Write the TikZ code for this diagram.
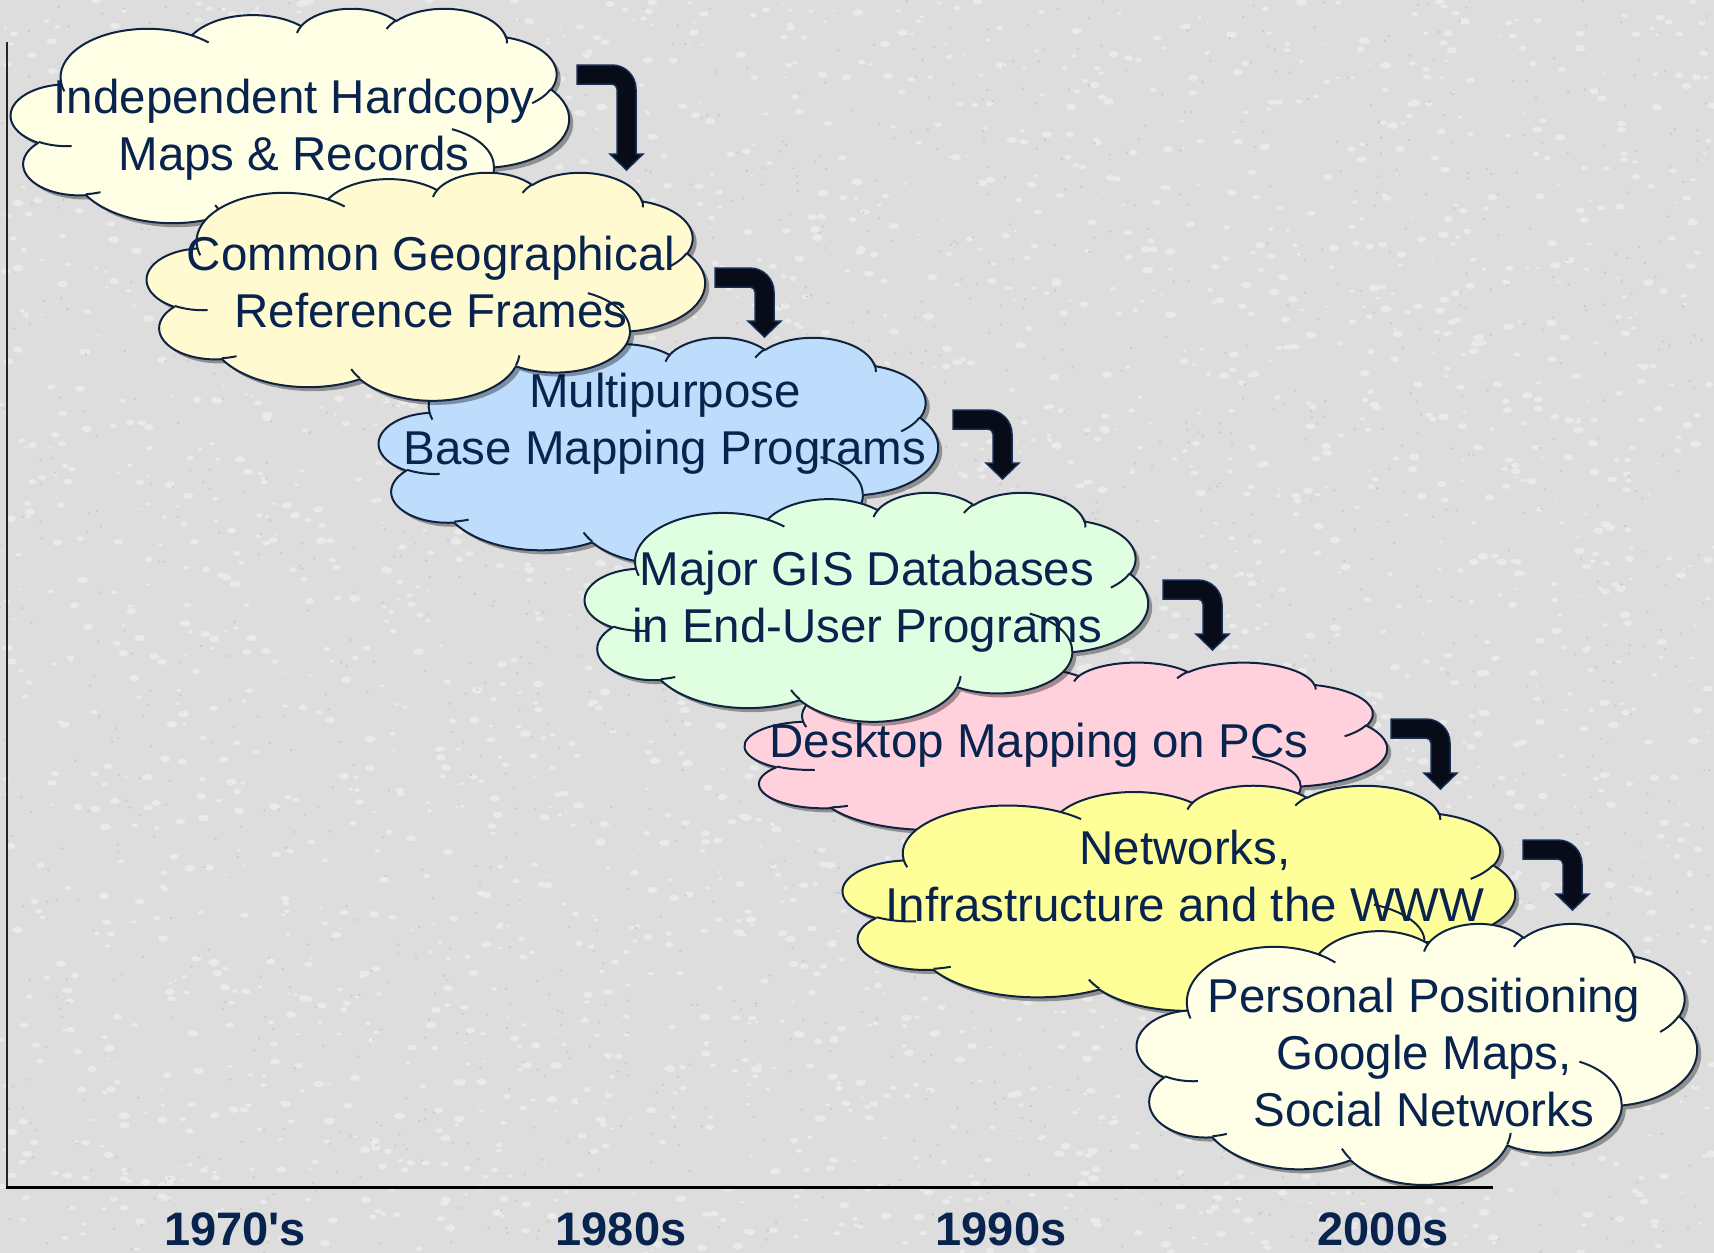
\documentclass[tikz,border=0pt]{standalone}
\usepackage{fontspec}
\setmainfont{Liberation Sans}
\definecolor{bgc}{RGB}{221,221,221}
\definecolor{specl}{RGB}{234,234,234}
\definecolor{specd}{RGB}{200,200,200}
\definecolor{cline}{RGB}{15,35,64}
\definecolor{txtc}{RGB}{8,36,78}
\definecolor{arrf}{RGB}{8,12,24}
\definecolor{arrl}{RGB}{20,45,85}
\definecolor{fa}{RGB}{255,255,230}
\definecolor{fb}{RGB}{255,250,208}
\definecolor{fc}{RGB}{190,221,253}
\definecolor{fd}{RGB}{224,255,224}
\definecolor{fe}{RGB}{255,209,220}
\definecolor{ff}{RGB}{255,255,153}
\definecolor{fg}{RGB}{255,255,232}
% visual (OOXML) angles -> parametric angles
\newcommand\mkarc[5]{%
  \pgfmathsetmacro\tmpS{atan2((#2)*sin(#4),(#3)*cos(#4))}%
  \pgfmathsetmacro\tmpE{atan2((#2)*sin((#4)+(#5)),(#3)*cos((#4)+(#5)))}%
  \pgfmathsetmacro\tmpD{(\tmpE)-(\tmpS)-360*round(((\tmpE)-(\tmpS)-(#5))/360)}%
  \expandafter\xdef\csname cloudS#1\endcsname{\tmpS}%
  \expandafter\xdef\csname cloudD#1\endcsname{\tmpD}%
}
\mkarc{A}{67.53}{91.90}{-190.4875}{123.7805}
\mkarc{B}{53.33}{72.67}{-144.1024}{89.9452}
\mkarc{C}{43.65}{59.45}{-145.8079}{99.7230}
\mkarc{D}{48.57}{65.95}{-130.9861}{117.2417}
\mkarc{E}{53.33}{72.73}{-78.7089}{109.0269}
\mkarc{F}{67.75}{92.20}{-46.2673}{130.2690}
\mkarc{G}{57.85}{78.67}{0.6250}{114.0333}
\mkarc{H}{67.52}{92.15}{22.4516}{115.1726}
\mkarc{I}{77.20}{105.43}{66.2426}{75.7110}
\mkarc{J}{43.60}{59.18}{-274.9421}{146.7356}
\mkarc{K}{43.45}{59.45}{-246.8285}{152.5189}
\mkarc{a}{43.45}{59.45}{86.7420}{26.4295}
\mkarc{b}{43.60}{59.18}{73.6105}{11.4475}
\mkarc{c}{67.52}{92.15}{137.6242}{14.0811}
\mkarc{d}{67.52}{92.15}{6.4533}{15.9984}
\mkarc{e}{57.85}{78.67}{-70.2924}{70.9174}
\mkarc{f}{53.33}{72.73}{30.3180}{27.7515}
\mkarc{g}{48.57}{65.95}{-13.7443}{14.8589}
\mkarc{h}{48.57}{65.95}{-149.1815}{18.1954}
\mkarc{i}{43.65}{59.45}{-163.4943}{17.6864}
\mkarc{j}{67.53}{91.90}{-66.7070}{12.3194}
\mkarc{k}{67.53}{91.90}{157.6544}{11.8582}
\newcommand\cloudmain[1]{\path[#1] (39.00,143.70)
 arc[x radius=67.53,y radius=91.90,start angle=\cloudSA,delta angle=\cloudDA]
 arc[x radius=53.33,y radius=72.67,start angle=\cloudSB,delta angle=\cloudDB]
 arc[x radius=43.65,y radius=59.45,start angle=\cloudSC,delta angle=\cloudDC]
 arc[x radius=48.57,y radius=65.95,start angle=\cloudSD,delta angle=\cloudDD]
 arc[x radius=53.33,y radius=72.73,start angle=\cloudSE,delta angle=\cloudDE]
 arc[x radius=67.75,y radius=92.20,start angle=\cloudSF,delta angle=\cloudDF]
 arc[x radius=57.85,y radius=78.67,start angle=\cloudSG,delta angle=\cloudDG]
 arc[x radius=67.52,y radius=92.15,start angle=\cloudSH,delta angle=\cloudDH]
 arc[x radius=77.20,y radius=105.43,start angle=\cloudSI,delta angle=\cloudDI]
 arc[x radius=43.60,y radius=59.18,start angle=\cloudSJ,delta angle=\cloudDJ]
 arc[x radius=43.45,y radius=59.45,start angle=\cloudSK,delta angle=\cloudDK]
 -- cycle;}
\newcommand\cloudinner[1]{\path[#1]
 (46.93,261.77) arc[x radius=43.45,y radius=59.45,start angle=\cloudSa,delta angle=\cloudDa]
 (69.28,348.99) arc[x radius=43.60,y radius=59.18,start angle=\cloudSb,delta angle=\cloudDb]
 (164.78,390.90) arc[x radius=67.52,y radius=92.15,start angle=\cloudSc,delta angle=\cloudDc]
 (288.27,347.51) arc[x radius=67.52,y radius=92.15,start angle=\cloudSd,delta angle=\cloudDd]
 (341.29,229.54) arc[x radius=57.85,y radius=78.67,start angle=\cloudSe,delta angle=\cloudDe]
 (417.98,153.54) arc[x radius=53.33,y radius=72.73,start angle=\cloudSf,delta angle=\cloudDf]
 (383.24,54.26) arc[x radius=48.57,y radius=65.95,start angle=\cloudSg,delta angle=\cloudDg]
 (290.78,39.52) arc[x radius=48.57,y radius=65.95,start angle=\cloudSh,delta angle=\cloudDh]
 (221.41,47.20) arc[x radius=43.65,y radius=59.45,start angle=\cloudSi,delta angle=\cloudDi]
 (140.00,51.92) arc[x radius=67.53,y radius=91.90,start angle=\cloudSj,delta angle=\cloudDj]
 (41.27,157.89) arc[x radius=67.53,y radius=91.90,start angle=\cloudSk,delta angle=\cloudDk];}
% x0, y0, w, h, fill colour
\newcommand\cloudat[5]{%
 \begin{scope}[shift={(#1+4,#2+4)},xscale=#3/432,yscale=#4/432]
  \cloudmain{fill=black,fill opacity=0.35}
 \end{scope}
 \begin{scope}[shift={(#1,#2)},xscale=#3/432,yscale=#4/432]
  \cloudmain{fill=#5,draw=cline,cloudline}
  \cloudinner{draw=cline,cloudline}
 \end{scope}}
% x, y, length
\newcommand\bentarrow[3]{%
 \draw[arrowshape,shift={(#1,#2)}] (0,0) -- (35,0) arc[start angle=-90,end angle=0,radius=24]
  -- (59,#3-16) -- (66,#3-16) -- (49.5,#3) -- (33,#3-16) -- (40,#3-16) -- (40,24)
  arc[start angle=0,end angle=-90,radius=5] -- (0,19) -- cycle;}
\tikzset{
 cloudline/.style={line width=2pt,line join=round},
 arrowshape/.style={fill=arrf,draw=arrl,line width=1.5pt,line join=miter},
 ctext/.style={text=txtc,font=\fontsize{47.5}{57}\selectfont,align=center,inner sep=0pt},
 year/.style={text=txtc,font=\fontsize{47}{56}\selectfont\bfseries,anchor=base,inner sep=0pt}
}
\begin{document}
\begin{tikzpicture}[x=1pt,y=-1pt]
\useasboundingbox (0,0) rectangle (1714,1253);
\fill[bgc] (0,0) rectangle (1714,1253);
% granite-like background grain
\pgfmathsetseed{4711}
\foreach \i in {1,...,3000}{
  \pgfmathsetmacro\rx{rnd*1714}
  \pgfmathsetmacro\ry{rnd*1253}
  \pgfmathsetmacro\rr{1+rnd*2.5}
  \fill[specl] (\rx,\ry) ellipse[x radius=\rr*1.6,y radius=\rr];
}
\foreach \i in {1,...,1500}{
  \pgfmathsetmacro\rx{rnd*1714}
  \pgfmathsetmacro\ry{rnd*1253}
  \fill[specd] (\rx,\ry) circle[radius=1.2];
}
% axes
\draw[line width=2pt,black!85] (7,42) -- (7,1187);
\draw[line width=3pt,black] (6,1187) -- (1493,1187);
% clouds (back to front)
\cloudat{11}{8}{558}{228}{fa}
\node[ctext] (t1) at (294,130) {Independent Hardcopy\\Maps \& Records};
\cloudat{379}{337}{559}{226}{fc}
\node[ctext] (t3) at (665,424) {Multipurpose\\Base Mapping Programs};
\cloudat{147}{172}{558}{228}{fb}
\node[ctext] (t2) at (431,282) {Common Geographical\\Reference Frames};
\cloudat{745}{662}{642}{178}{fe}
\node[ctext] (t5) at (1039,745) {Desktop Mapping on PCs};
\cloudat{585}{492}{563}{229}{fd}
\node[ctext] (t4) at (867,602) {Major GIS Databases\\in End-User Programs};
\cloudat{843}{785}{672}{225}{ff}
\node[ctext] (t6) at (1185,876) {Networks,\\Infrastructure and the WWW};
\cloudat{1137}{923}{560}{261}{fg}
\node[ctext] (t7) at (1424,1053) {Personal Positioning\\Google Maps,\\Social Networks};
% bent arrows
\bentarrow{577}{65}{105}
\bentarrow{715}{268}{69}
\bentarrow{953}{410}{69}
\bentarrow{1163}{580}{70}
\bentarrow{1391}{719}{70}
\bentarrow{1523}{840}{70}
% decades
\node[year] (y70) at (235,1245) {1970\textquotesingle s};
\node[year] (y80) at (621,1245) {1980s};
\node[year] (y90) at (1001,1245) {1990s};
\node[year] (y00) at (1383,1245) {2000s};
\end{tikzpicture}
\end{document}
